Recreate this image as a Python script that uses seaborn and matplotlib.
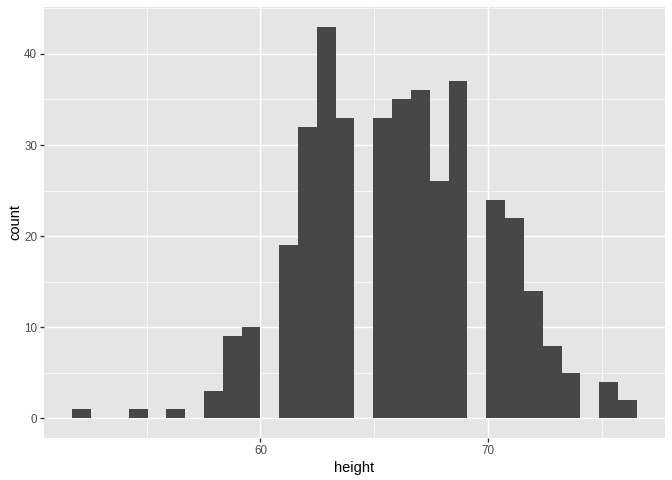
import numpy as np
import pandas as pd
import matplotlib
matplotlib.use("Agg")
import matplotlib.pyplot as plt
import seaborn as sns
from matplotlib.ticker import MultipleLocator

# histogram: 30 bins between the smallest and largest height
height_min = 52.14
height_max = 76.13
n_bins = 30
counts = [1, 0, 0, 1, 0, 1, 0, 3, 9, 10,
          0, 19, 32, 43, 33, 0, 33, 35, 36, 26,
          37, 0, 24, 22, 14, 8, 5, 0, 4, 2]

x_major = [60, 70]
y_major = [0, 10, 20, 30, 40]

binwidth = (height_max - height_min) / (n_bins - 1)
lo = height_min - binwidth / 2
hi = height_max + binwidth / 2
centers = np.linspace(height_min, height_max, n_bins)
df = pd.DataFrame({"height": centers, "n": counts})

plt.rcParams["font.family"] = ["Liberation Sans", "DejaVu Sans"]

fig = plt.figure(figsize=(6.72, 4.8), dpi=100)
ax = fig.add_axes([44 / 672, 42 / 480, 621 / 672, 431 / 480])
ax.set_facecolor("#E5E5E5")

sns.histplot(
    data=df,
    x="height",
    weights="n",
    bins=n_bins,
    binrange=(lo, hi),
    color="#474747",
    alpha=1,
    edgecolor="none",
    linewidth=0,
    ax=ax
)

x_range = hi - lo
ax.set_xlim(lo - 0.05 * x_range, hi + 0.05 * x_range)
y_top = max(counts)
ax.set_ylim(-0.05 * y_top, y_top * 1.05)

ax.set_xticks(x_major)
ax.set_yticks(y_major)
ax.xaxis.set_minor_locator(MultipleLocator(5))
ax.yaxis.set_minor_locator(MultipleLocator(5))

ax.set_axisbelow(True)
ax.grid(which="major", color="white", linewidth=1.05)
ax.grid(which="minor", color="white", linewidth=0.5)

for side in ["top", "right", "bottom", "left"]:
    ax.spines[side].set_visible(False)

ax.tick_params(which="major", length=2.7, width=1.0, color="#333333",
               labelsize=8.4, labelcolor="#4D4D4D", pad=2.2)
ax.tick_params(which="minor", length=0)

ax.set_xlabel("height", fontsize=10.5, color="black", labelpad=3)
ax.set_ylabel("count", fontsize=10.5, color="black", labelpad=1.5)

fig.savefig("out.png", dpi=100)
plt.close(fig)
